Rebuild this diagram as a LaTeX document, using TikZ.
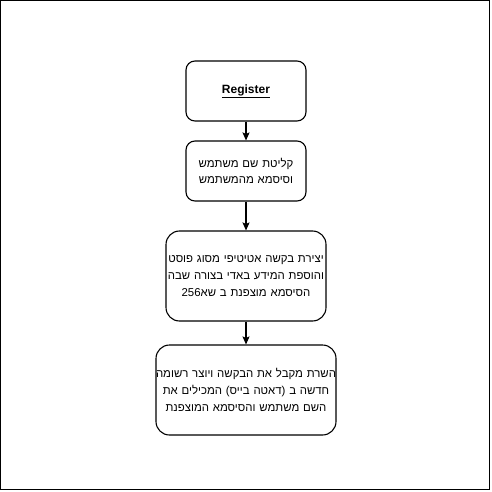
\documentclass[tikz,border=0pt]{standalone}
\usepackage{fontspec}
\setmainfont{Liberation Sans}
\newfontfamily\hebfont[Script=Hebrew]{Liberation Sans}
\TeXXeTstate=1
\usetikzlibrary{positioning,arrows.meta}
\tikzset{
  stepbox/.style ={draw=black, fill=white, line width=1.1pt, align=center,
                   font=\hebfont\fontsize{11.4}{16.7}\selectfont,
                   inner ysep=0pt, inner xsep=-12pt},
  smallbox/.style={stepbox, minimum width=120pt, minimum height=60pt, text width=144pt,
                   rounded corners=9pt},
  bigbox/.style  ={stepbox, minimum width=160pt, minimum height=90pt, text width=184pt,
                   rounded corners=13.5pt},
  ar/.style      ={-{Stealth[length=8pt,width=7pt,inset=1.5pt]}, draw=black, line width=1.1pt},
}
\begin{document}
\begin{tikzpicture}[x=1pt,y=-1pt]
\useasboundingbox (0,0) rectangle (491,492);
\draw[line width=1.3pt] (0.7,0.7) rectangle (489.3,489.3);

% steps
\node[smallbox] (reg) at (246,91) {\fontsize{12}{14}\selectfont\bfseries\underline{Register}};
\node[smallbox] (input) at (246,171)
   {\beginR קליטת שם משתמש\endR\\\beginR וסיסמא מהמשתמש\endR};
\node[bigbox] (post) at (246,276)
   {\beginR יצירת בקשה אטיטיפי מסוג פוסט\endR\\%
    \beginR והוספת המידע באדי בצורה שבה\endR\\%
    \beginR הסיסמא מוצפנת ב שא\beginL256\endL\endR};
\node[bigbox, minimum width=180pt, text width=204pt] (save) at (246,390)
   {\beginR השרת מקבל את הבקשה ויוצר רשומה\endR\\%
    \beginR חדשה ב (דאטה בייס) המכילים את\endR\\%
    \beginR השם משתמש והסיסמא המוצפנת\endR};

% flow
\draw[ar] (reg) -- (input);
\draw[ar] (input) -- (post);
\draw[ar] (post) -- (save);
\end{tikzpicture}
\end{document}
